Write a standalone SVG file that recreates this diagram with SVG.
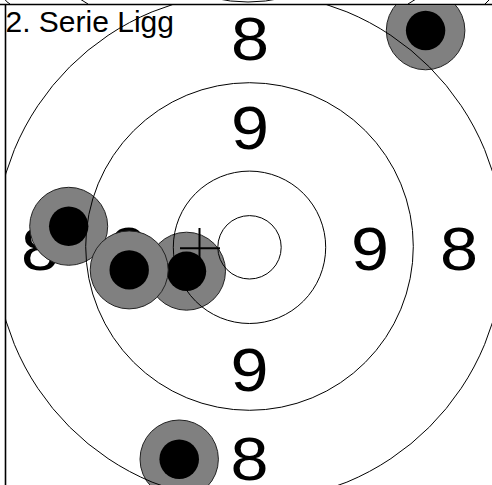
<svg xmlns="http://www.w3.org/2000/svg" width="492" height="485" viewBox="0 0 492 485">
<style>
.ring{fill:none;stroke:#000;stroke-width:1}
.lbl{font-family:"Liberation Sans",Arial,sans-serif;font-size:62px;fill:#000;text-anchor:middle}
.title{font-family:"Liberation Sans",Arial,sans-serif;font-size:30px;fill:#000}
.halo{fill:#808080;stroke:#222;stroke-width:1}
.core{fill:#000}
.cross{stroke:#000;stroke-width:2}
</style>
<defs>
<clipPath id="frame"><rect x="6" y="5" width="486" height="480"/></clipPath>
<clipPath id="above"><rect x="0" y="0" width="492" height="4"/></clipPath>
</defs>
<rect width="492" height="485" fill="#fff"/>
<g id="above-fragments" clip-path="url(#above)" fill="none" stroke="#000" stroke-width="1">
<path d="M4,-2 Q6,2 10,4"/>
<path d="M80,-1 L88,4"/>
<path d="M213,-2 Q248,6 283,-2"/>
<path d="M408,4 L416,-1"/>
<path d="M485,4 L490,-1"/>
</g>
<g id="frame-lines" stroke="#000" stroke-width="1.6" fill="none">
<line x1="0" y1="4.5" x2="492" y2="4.5"/>
<line x1="5.5" y1="4" x2="5.5" y2="485"/>
</g>
<g clip-path="url(#frame)">
<g id="labels">
<text class="lbl" x="250" y="59.5" textLength="38" lengthAdjust="spacingAndGlyphs">8</text>
<text class="lbl" x="250" y="148.7" textLength="38" lengthAdjust="spacingAndGlyphs">9</text>
<text class="lbl" x="370" y="269.7" textLength="38" lengthAdjust="spacingAndGlyphs">9</text>
<text class="lbl" x="459" y="269.7" textLength="38" lengthAdjust="spacingAndGlyphs">8</text>
<text class="lbl" x="129" y="269.7" textLength="38" lengthAdjust="spacingAndGlyphs">9</text>
<text class="lbl" x="40" y="269.7" textLength="38" lengthAdjust="spacingAndGlyphs">8</text>
<text class="lbl" x="249.6" y="390.7" textLength="38" lengthAdjust="spacingAndGlyphs">9</text>
<text class="lbl" x="249.6" y="479.5" textLength="38" lengthAdjust="spacingAndGlyphs">8</text>
</g>
<g id="hole-top-right"><circle class="halo" cx="425.6" cy="30.5" r="39.3"/><circle class="core" cx="425.6" cy="30.5" r="19.7"/></g>
<g id="hole-left"><circle class="halo" cx="68.7" cy="226.3" r="39"/><circle class="core" cx="68.7" cy="226.3" r="19.7"/></g>
<g id="hole-center"><circle class="halo" cx="186.5" cy="271.2" r="39"/><circle class="core" cx="186.5" cy="271.2" r="19.7"/></g>
<g id="hole-mid-left"><circle class="halo" cx="129.2" cy="269.9" r="39"/><circle class="core" cx="129.2" cy="269.9" r="19.7"/></g>
<g id="hole-bottom"><circle class="halo" cx="179.2" cy="459.2" r="39.2"/><circle class="core" cx="179.2" cy="459.2" r="19.8"/></g>
<g id="rings">
<circle class="ring" cx="249.5" cy="247.3" r="31.7"/>
<circle class="ring" cx="249.5" cy="247.3" r="76.2"/>
<circle class="ring" cx="249.5" cy="246.5" r="163.8"/>
<circle class="ring" cx="249.5" cy="247" r="254.5"/>
</g>
<g id="crosshair">
<line class="cross" x1="180" y1="248.3" x2="220" y2="248.3"/>
<line class="cross" x1="199.5" y1="228" x2="199.5" y2="268"/>
</g>
</g>
<text class="title" x="5.5" y="31.5">2. Serie Ligg</text>
</svg>
